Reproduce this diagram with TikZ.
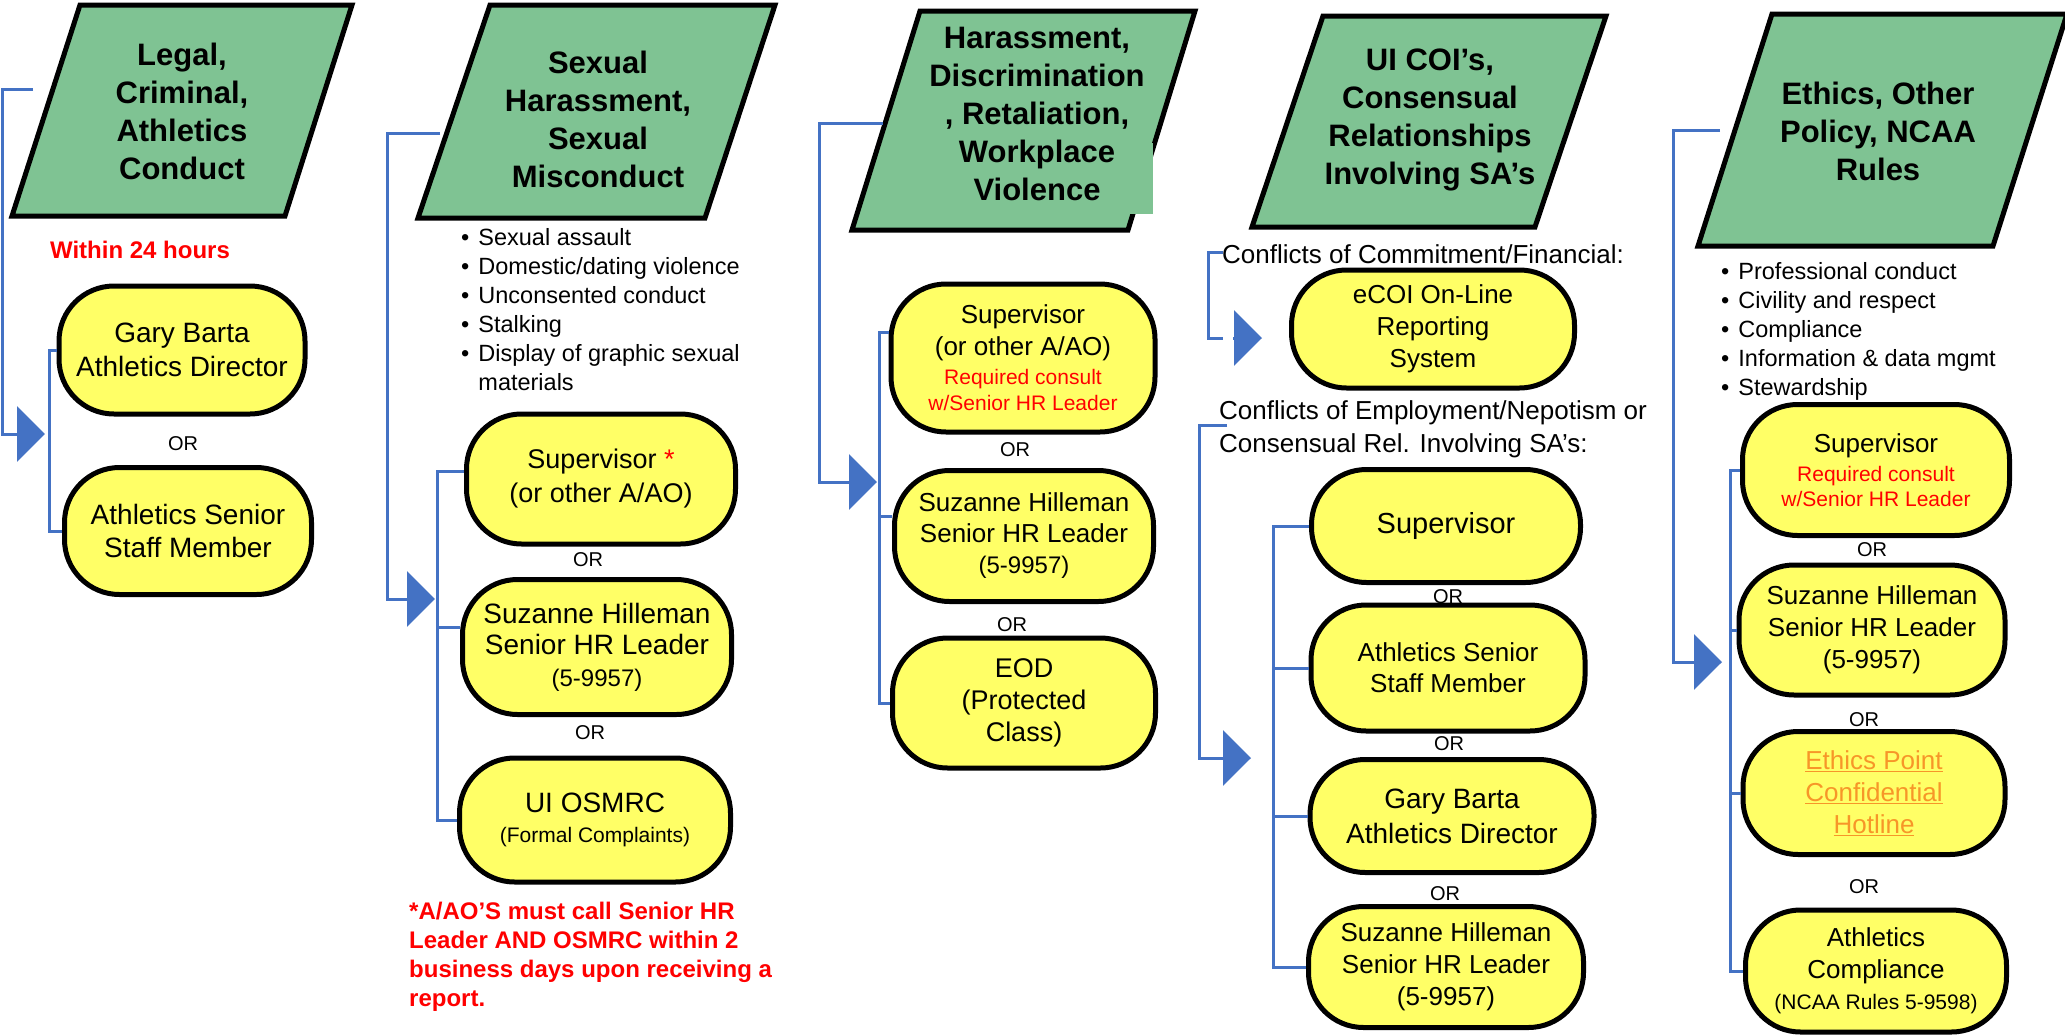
\documentclass[tikz,border=0pt]{standalone}
\usepackage{fontspec}
\setmainfont{Liberation Sans}
\usetikzlibrary{arrows.meta, positioning, calc}

\definecolor{catgreen}{RGB}{127,195,147}
\definecolor{optyellow}{RGB}{255,255,102}
\definecolor{linkblue}{RGB}{68,114,196}
\definecolor{hotline}{RGB}{247,150,40}

\tikzset{
  cat/.style={draw, line width=5pt, fill=catgreen},
  hdr/.style={align=center, inner sep=0pt, font=\bfseries\fontsize{31}{38}\selectfont},
  opt/.style={draw, line width=5pt, fill=optyellow, rounded corners=55pt, align=center,
    inner sep=0pt, font=\fontsize{26}{32}\selectfont},
  orlbl/.style={inner sep=0pt, font=\fontsize{20}{24}\selectfont},
  bullets/.style={anchor=base west, inner sep=0pt, font=\fontsize{23.5}{29}\selectfont},
  feed/.style={draw=linkblue, line width=3pt},
  feedtip/.style={-{Triangle[length=28pt,width=55pt]}}
}

\begin{document}
\begin{tikzpicture}[x=1pt,y=-1pt]
\fill[white] (0,0) rectangle (2065,1036);
\useasboundingbox (0,0) rectangle (2065,1036);

% Column 1: legal, criminal, athletics conduct
\draw[cat] (80,5) -- (352,5) -- (285,216) -- (12,216) -- cycle;
\node[hdr] (legal) at (182,111) {Legal,\\Criminal,\\Athletics\\Conduct};
\node[text=red, font=\bfseries\fontsize{24}{29}\selectfont] (within) at (140,250) {Within 24 hours};
\node[opt, font=\fontsize{28}{34}\selectfont, minimum width=246pt, minimum height=128pt] (barta1) at (182,350) {Gary Barta\\Athletics Director};
\node[orlbl] (or11) at (183,444) {OR};
\node[opt, font=\fontsize{28}{33}\selectfont, minimum width=247pt, minimum height=127pt] (staff1) at (188,531) {Athletics Senior\\Staff Member};
\coordinate (in1) at (33,89);
\coordinate (hit1) at (45,434);
\coordinate (bar1) at (49,0);
\draw[feed, feedtip] (in1) -- ++(-31,0) |- (hit1);
\draw[feed] (barta1.west) -| (bar1 |- staff1.west) -- (staff1.west);

% Column 2: sexual harassment, sexual misconduct
\draw[cat] (490,5) -- (775,5) -- (705,218) -- (418,218) -- cycle;
\node[hdr] (sexual) at (598,119) {Sexual\\Harassment,\\Sexual\\Misconduct};
\node[bullets] (shlist) at (461,245) {\begin{tabular}[t]{@{}l@{\hspace{9pt}}l@{}}
\textbullet & Sexual assault\\
\textbullet & Domestic/dating violence\\
\textbullet & Unconsented conduct\\
\textbullet & Stalking\\
\textbullet & Display of graphic sexual\\
 & materials
\end{tabular}};
\node[opt, font=\fontsize{27}{34}\selectfont, minimum width=269pt, minimum height=130pt] (sup2) at (601,479) {Supervisor \textcolor{red}{*}\\(or other A/AO)};
\node[orlbl] (or21) at (588,560) {OR};
\node[opt, font=\fontsize{28}{31.5}\selectfont, minimum width=269pt, minimum height=135pt] (hil2) at (597,647) {Suzanne Hilleman\\Senior HR Leader\\{\fontsize{24}{29}\selectfont (5-9957)}};
\node[orlbl] (or22) at (590,733) {OR};
\node[opt, font=\fontsize{26}{30}\selectfont, minimum width=271pt, minimum height=124pt] (osm2) at (595,820) {{\fontsize{28}{34}\selectfont UI OSMRC}\\{\fontsize{21}{26}\selectfont (Formal Complaints)}};
\node[anchor=west, align=left, inner sep=0pt, text=red, font=\bfseries\fontsize{24}{29}\selectfont] (warn2) at (409,957) {*A/AO’S must call Senior HR\\Leader AND OSMRC within 2\\business days upon receiving a\\report.};
\coordinate (in2) at (440,133);
\coordinate (hit2) at (435,599);
\coordinate (bar2) at (437,0);
\draw[feed, feedtip] (in2) -- ++(-53,0) |- (hit2);
\draw[feed] ([yshift=8pt]sup2.west) -| (bar2 |- osm2.west) -- (osm2.west);
\draw[feed] ([yshift=20pt]hil2.west) -- ([yshift=20pt]bar2 |- hil2.west);

% Column 3: harassment, discrimination, retaliation
\draw[cat] (920,11) -- (1195,11) -- (1128,230) -- (852,230) -- cycle;
\fill[catgreen] (1110,143) rectangle (1153,214);
\node[hdr] (harass) at (1037,114) {Harassment,\\Discrimination\\, Retaliation,\\Workplace\\Violence};
\node[opt, minimum width=264pt, minimum height=148pt] (sup3) at (1023,358) {Supervisor\\(or other A/AO)\\[-3pt]{\color{red}\fontsize{21}{26}\selectfont Required consult}\\[-6pt]{\color{red}\fontsize{21}{26}\selectfont w/Senior HR Leader}};
\node[orlbl] (or31) at (1015,450) {OR};
\node[opt, font=\fontsize{26}{31}\selectfont, minimum width=259pt, minimum height=131pt] (hil3) at (1024,536) {Suzanne Hilleman\\Senior HR Leader\\{\fontsize{24}{29}\selectfont (5-9957)}};
\node[orlbl] (or32) at (1012,625) {OR};
\node[opt, font=\fontsize{27}{32}\selectfont, minimum width=263pt, minimum height=130pt] (eod3) at (1024,703) {EOD\\(Protected\\Class)};
\coordinate (in3) at (883,123);
\coordinate (hit3) at (877,482);
\coordinate (bar3) at (879,0);
\draw[feed, feedtip] (in3) -- ++(-64,0) |- (hit3);
\draw[feed] ([yshift=26pt]sup3.west) -| (bar3 |- eod3.west) -- (eod3.west);
\draw[feed] ([yshift=20pt]hil3.west) -- ([yshift=20pt]bar3 |- hil3.west);

% Column 4: COI's, consensual relationships
\draw[cat] (1323,16) -- (1606,16) -- (1535,227) -- (1252,227) -- cycle;
\node[hdr] (coi) at (1430,120) {UI COI’s,\\Consensual\\Relationships\\Involving SA’s};
\node[anchor=west, inner sep=0pt, font=\fontsize{26}{32}\selectfont] (cocf) at (1222,254) {Conflicts of Commitment/Financial:};
\node[opt, minimum width=283pt, minimum height=118pt] (ecoi) at (1433,329) {eCOI On-Line\\Reporting\\System};
\node[anchor=west, align=left, inner sep=0pt, font=\fontsize{26}{33}\selectfont] (coen) at (1219,429) {Conflicts of Employment/Nepotism or\\Consensual Rel. Involving SA’s:};
\node[opt, font=\fontsize{29}{34}\selectfont, minimum width=269pt, minimum height=113pt] (sup4) at (1446,526) {Supervisor};
\node[opt, font=\fontsize{26}{31}\selectfont, minimum width=274pt, minimum height=126pt] (staff4) at (1448,668) {Athletics Senior\\Staff Member};
\node[opt, font=\fontsize{28}{35}\selectfont, minimum width=284pt, minimum height=113pt] (barta4) at (1452,816) {Gary Barta\\Athletics Director};
\node[opt, minimum width=275pt, minimum height=121pt] (hil4) at (1446,967) {Suzanne Hilleman\\Senior HR Leader\\(5-9957)};
\node[orlbl] (or41) at (1448,597) {OR};
\node[orlbl] (or42) at (1449,744) {OR};
\node[orlbl] (or43) at (1445,894) {OR};
\coordinate (in4a) at (1223,252);
\coordinate (out4a) at (1223,338);
\coordinate (tail4a) at (1233,338);
\coordinate (hit4a) at (1262,338);
\draw[feed] (in4a) -- ++(-15,0) |- (out4a);
\draw[feed, feedtip] (tail4a) -- (hit4a);
\coordinate (in4b) at (1227,425);
\coordinate (hit4b) at (1251,758);
\coordinate (bar4) at (1273,0);
\draw[feed, feedtip] (in4b) -- ++(-28,0) |- (hit4b);
\draw[feed] (sup4.west) -| (bar4 |- hil4.west) -- (hil4.west);
\draw[feed] (staff4.west) -- (bar4 |- staff4.west);
\draw[feed] (barta4.west) -- (bar4 |- barta4.west);

% Column 5: ethics, other policy, NCAA rules
\draw[cat] (1772,14) -- (2067,14) -- (1993,246) -- (1698,246) -- cycle;
\node[hdr] (ethics) at (1878,131) {Ethics, Other\\Policy, NCAA\\Rules};
\node[bullets] (ethlist) at (1721,279) {\begin{tabular}[t]{@{}l@{\hspace{9pt}}l@{}}
\textbullet & Professional conduct\\
\textbullet & Civility and respect\\
\textbullet & Compliance\\
\textbullet & Information \& data mgmt\\
\textbullet & Stewardship
\end{tabular}};
\node[opt, minimum width=267pt, minimum height=131pt] (sup5) at (1876,470) {Supervisor\\[-3pt]{\color{red}\fontsize{21}{26}\selectfont Required consult}\\[-7pt]{\color{red}\fontsize{21}{26}\selectfont w/Senior HR Leader}};
\node[orlbl] (or51) at (1872,550) {OR};
\node[opt, minimum width=266pt, minimum height=130pt] (hil5) at (1872,630) {Suzanne Hilleman\\Senior HR Leader\\(5-9957)};
\node[orlbl] (or52) at (1864,720) {OR};
\node[opt, text=hotline, minimum width=262pt, minimum height=123pt] (eth5) at (1874,793) {\underline{Ethics Point}\\\underline{Confidential}\\\underline{Hotline}};
\node[orlbl] (or53) at (1864,887) {OR};
\node[opt, font=\fontsize{26}{32}\selectfont, minimum width=261pt, minimum height=122pt] (comp5) at (1876,971) {Athletics\\Compliance\\[-1pt]{\fontsize{21}{26}\selectfont (NCAA Rules 5-9598)}};
\coordinate (in5) at (1720,130);
\coordinate (hit5) at (1722,662);
\coordinate (bar5) at (1730,0);
\draw[feed, feedtip] (in5) -- ++(-47,0) |- (hit5);
\draw[feed] (sup5.west) -| (bar5 |- comp5.west) -- (comp5.west);
\draw[feed] (hil5.west) -- (bar5 |- hil5.west);
\draw[feed] (eth5.west) -- (bar5 |- eth5.west);
\end{tikzpicture}
\end{document}
